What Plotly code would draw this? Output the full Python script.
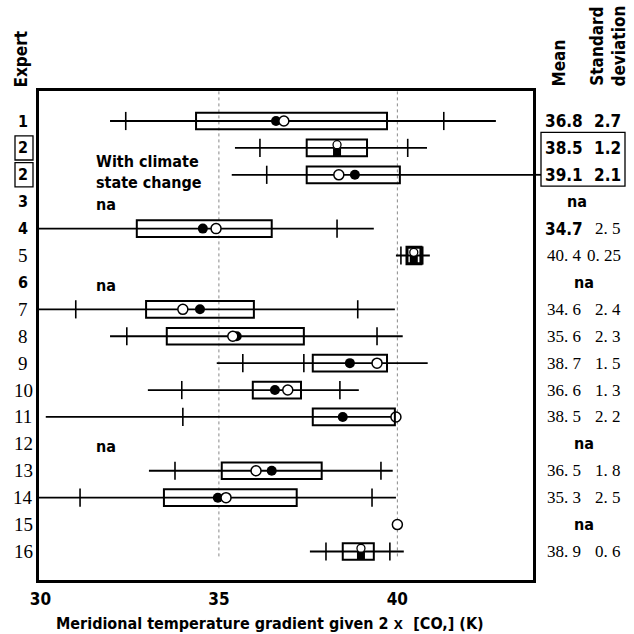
import plotly.graph_objects as go

# ---------------- data ----------------
expert_labels = ["1", "2", "2", "3", "4", "5", "6", "7", "8", "9", "10",
                 "11", "12", "13", "14", "15", "16"]
label_is_serif = [False, False, False, False, False, True, False, True, True,
                  True, True, True, True, True, True, True, True]
boxed_labels = [1, 2]          # rows whose expert label is boxed ("with climate state change")
na_rows = [3, 6, 12]           # rows marked "na" in the plot

whisker_lo = [31.95, 35.45, 35.36, None, 29.5, 39.96, None, 29.5, 31.95,
              34.94, 33.01, 30.15, None, 33.04, 29.5, None, 37.55]
whisker_hi = [42.76, 40.83, 44.5, None, 39.34, 40.91, None, 39.93, 40.15,
              40.85, 38.92, 39.96, None, 39.87, 39.96, None, 40.18]
tick_marks = [[32.39, 41.30], [36.15, 40.29], [36.34], [], [38.31],
              [40.10, 40.71], [], [30.99, 38.89], [32.42, 39.43],
              [35.67, 37.38], [33.96, 38.39], [33.99], [], [33.77, 39.54],
              [31.11, 39.29], [], [38.00, 39.79]]
box_lo = [34.36, 37.46, 37.46, None, 32.70, 40.27, None, 32.96, 33.54,
          37.63, 35.95, 37.63, None, 35.08, 33.46, None, 38.47]
box_hi = [39.71, 39.15, 40.07, None, 36.48, 40.66, None, 35.98, 37.38,
          39.71, 37.30, 39.93, None, 37.88, 37.18, None, 39.34]
filled_circle = [36.60, None, 38.81, None, 34.55, None, None, 34.47, 35.50,
                 38.67, 36.57, 38.47, None, 36.48, 34.97, None, None]
open_circle = [36.82, None, 38.36, None, 34.92, None, None, 33.99, 35.39,
               39.43, 36.93, 39.96, None, 36.04, 35.20, 40.0, None]
coincident = [None, 38.31, None, None, None, 40.46, None, None, None, None,
              None, None, None, None, None, None, 38.98]

mean_text = ["36.8", "38.5", "39.1", "na", "34.7", "40. 4", "na", "34. 6",
             "35. 6", "38. 7", "36. 6", "38. 5", "na", "36. 5", "35. 3", "na",
             "38. 9"]
sd_text = ["2.7", "1.2", "2.1", "", "2. 5", "0. 25", "", "2. 4", "2. 3",
           "1. 5", "1. 3", "2. 2", "", "1. 8", "2. 5", "", "0. 6"]
mean_is_serif = [False, False, False, False, False, True, False, True, True,
                 True, True, True, False, True, True, False, True]
sd_is_serif = [False, False, False, False, True, True, False, True, True,
               True, True, True, False, True, True, False, True]

x_ticks = [30, 35, 40]
x_ticktext = ["30", "35", "40"]

# ---------------- style ----------------
SANS = "DejaVu Sans Condensed, Roboto, Arial, sans-serif"
SERIF = "Liberation Serif, DejaVu Serif, serif"
W, H = 634, 634
ML, MR, MT, MB = 39, 101, 91, 54
PW = W - ML - MR
PH = H - MT - MB


def px2paper_x(px):
    return (px - ML) / PW


def px2paper_y(py):
    return (H - MB - py) / PH


def sfont(size, serif=False):
    if serif:
        return dict(family=SERIF, size=size, color="black")
    return dict(family=SANS, size=size, color="black", weight="bold")


fig = go.Figure()
shapes = []
annotations = []

n = len(expert_labels)
for i in range(n):
    if whisker_lo[i] is not None:
        fig.add_trace(go.Scatter(x=[whisker_lo[i], whisker_hi[i]], y=[i, i],
                                 mode="lines", line=dict(color="black", width=1.8),
                                 hoverinfo="skip", showlegend=False))
    if tick_marks[i]:
        fig.add_trace(go.Scatter(x=tick_marks[i], y=[i] * len(tick_marks[i]),
                                 mode="markers",
                                 marker=dict(symbol="line-ns", size=13,
                                             line=dict(color="black", width=1.6)),
                                 hoverinfo="skip", showlegend=False))
    if box_lo[i] is not None:
        shapes.append(dict(type="rect", xref="x", yref="y",
                           x0=box_lo[i], x1=box_hi[i], y0=i - 0.31, y1=i + 0.31,
                           line=dict(color="black", width=3 if i == 5 else 2),
                           fillcolor="rgba(0,0,0,0)"))

fx = [v for v in filled_circle if v is not None]
fy = [i for i, v in enumerate(filled_circle) if v is not None]
ox = [v for v in open_circle if v is not None]
oy = [i for i, v in enumerate(open_circle) if v is not None]
cx = [v for v in coincident if v is not None]
cy = [i for i, v in enumerate(coincident) if v is not None]

fig.add_trace(go.Scatter(x=fx, y=fy, mode="markers",
                         marker=dict(symbol="circle", size=10, color="black"),
                         hoverinfo="skip", showlegend=False))
fig.add_trace(go.Scatter(x=ox, y=oy, mode="markers",
                         marker=dict(symbol="circle", size=10, color="white",
                                     line=dict(color="black", width=1.5)),
                         hoverinfo="skip", showlegend=False))
fig.add_trace(go.Scatter(x=cx, y=[v + 0.16 for v in cy], mode="markers",
                         marker=dict(symbol="square", size=8, color="black"),
                         hoverinfo="skip", showlegend=False))
fig.add_trace(go.Scatter(x=cx, y=[v - 0.12 for v in cy], mode="markers",
                         marker=dict(symbol="circle", size=8, color="white",
                                     line=dict(color="black", width=1.3)),
                         hoverinfo="skip", showlegend=False))

# dotted grid lines at 35 and 40
for xv in x_ticks[1:]:
    shapes.append(dict(type="line", xref="x", yref="y", x0=xv, x1=xv,
                       y0=-1.1, y1=16.25, layer="below",
                       line=dict(color="#888888", width=1, dash="dot")))

# line of the second "2" row extending out to the table box
shapes.append(dict(type="line", xref="paper", yref="y", x0=1.0, x1=px2paper_x(541),
                   y0=2, y1=2, line=dict(color="black", width=1.8)))

# boxes around the "2" expert labels
for r in boxed_labels:
    shapes.append(dict(type="rect", xref="paper", yref="y",
                       x0=px2paper_x(15), x1=px2paper_x(33),
                       y0=r - 0.45, y1=r + 0.45,
                       line=dict(color="black", width=1.3)))
# box around the table values of the "2" rows
shapes.append(dict(type="rect", xref="paper", yref="y",
                   x0=px2paper_x(541), x1=px2paper_x(625),
                   y0=boxed_labels[0] - 0.58, y1=boxed_labels[-1] + 0.42,
                   line=dict(color="black", width=1.3)))

# expert labels
for i, lab in enumerate(expert_labels):
    annotations.append(dict(xref="paper", yref="y", x=px2paper_x(23), y=i,
                            text=lab, showarrow=False, xanchor="center", yanchor="middle",
                            font=sfont(19 if label_is_serif[i] else 16, label_is_serif[i])))

# na in plot
for r in na_rows:
    annotations.append(dict(xref="x", yref="y", x=31.5, y=r + 0.1, text="na",
                            showarrow=False, xanchor="left", yanchor="middle",
                            font=sfont(16)))

annotations.append(dict(xref="x", yref="y", x=31.5, y=1.9,
                        text="With climate<br>state change", showarrow=False,
                        xanchor="left", yanchor="middle", align="left",
                        font=sfont(16)))

# table
for i in range(n):
    if mean_text[i] == "na":
        annotations.append(dict(xref="paper", yref="y",
                                x=px2paper_x(577 if i == 3 else 584), y=i,
                                text="na", showarrow=False, xanchor="center",
                                font=sfont(16)))
        continue
    annotations.append(dict(xref="paper", yref="y",
                            x=px2paper_x(543 if not mean_is_serif[i] else 545),
                            y=i, text=mean_text[i], showarrow=False, xanchor="left",
                            font=sfont(17, mean_is_serif[i])))
    annotations.append(dict(xref="paper", yref="y", x=px2paper_x(623),
                            y=i, text=sd_text[i], showarrow=False, xanchor="right",
                            font=sfont(17, sd_is_serif[i])))

# headers
annotations.append(dict(xref="paper", yref="paper", x=px2paper_x(21), y=px2paper_y(90),
                        text="Expert", textangle=-90, showarrow=False,
                        xanchor="center", yanchor="bottom", font=sfont(17)))
annotations.append(dict(xref="paper", yref="paper", x=px2paper_x(558), y=px2paper_y(89),
                        text="Mean", textangle=-90, showarrow=False,
                        xanchor="center", yanchor="bottom", font=sfont(17)))
annotations.append(dict(xref="paper", yref="paper", x=px2paper_x(607), y=px2paper_y(89),
                        text="Standard<br>deviation", textangle=-90, showarrow=False,
                        xanchor="center", yanchor="bottom", font=sfont(17)))

# x title
annotations.append(dict(xref="paper", yref="paper", x=px2paper_x(270), y=px2paper_y(624),
                        text="Meridional temperature gradient given 2 "
                             "<span style='font-family:Liberation Mono'>x</span>  [CO,] (K)",
                        showarrow=False, xanchor="center", yanchor="middle",
                        font=sfont(16)))

fig.update_layout(
    width=W, height=H,
    margin=dict(l=ML, r=MR, t=MT, b=MB),
    paper_bgcolor="white", plot_bgcolor="white",
    shapes=shapes, annotations=annotations,
    showlegend=False,
    xaxis=dict(range=[29.96, 43.8], tickvals=x_ticks, ticktext=x_ticktext,
               showgrid=False, zeroline=False, ticks="",
               showline=True, linecolor="black", linewidth=3, mirror=True,
               tickfont=sfont(17), ticklabelstandoff=2),
    yaxis=dict(range=[17.06, -1.115], showticklabels=False, showgrid=False,
               zeroline=False, ticks="",
               showline=True, linecolor="black", linewidth=3, mirror=True),
)

fig.write_html("out.html", config={"displayModeBar": False},
               post_script="document.body.style.margin='0';"
                           "document.body.style.overflow='hidden';")
